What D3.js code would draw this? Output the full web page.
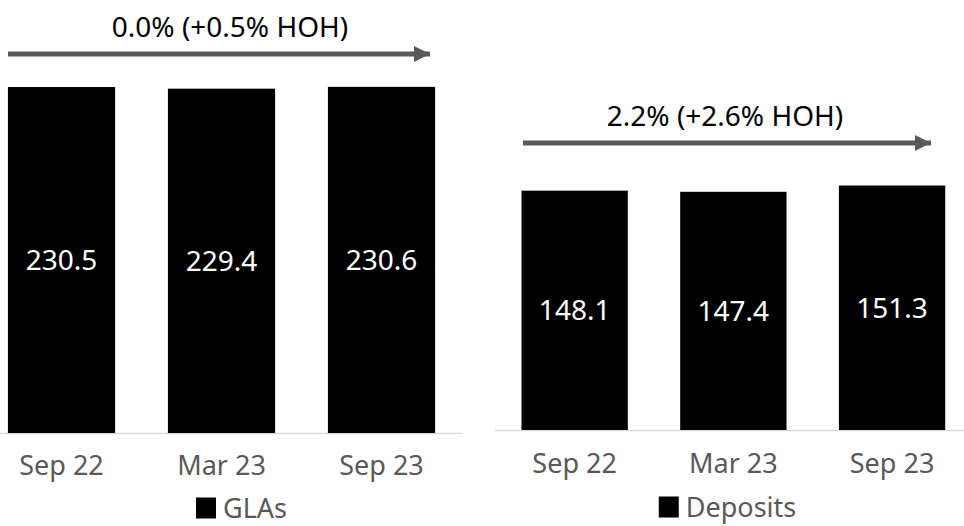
<!DOCTYPE html>
<html>
<head>
<meta charset="utf-8">
<script src="https://cdn.jsdelivr.net/npm/d3@7"></script>
<style>
  html, body { margin: 0; padding: 0; background: #fff; }
  svg { display: block; font-family: "Noto Sans", "Open Sans", sans-serif; }
</style>
</head>
<body>
<svg id="chart" width="964" height="526"></svg>
<script>
// ---- data ----
const categories = ["Sep 22", "Mar 23", "Sep 23"];
const glasValues = [230.5, 229.4, 230.6];
const depositValues = [148.1, 147.4, 151.3];
const seriesNames = ["GLAs", "Deposits"];
const growthLabels = ["0.0% (+0.5% HOH)", "2.2% (+2.6% HOH)"];

const svg = d3.select("#chart");
const textGray = "#595959";

const panels = [
  { values: glasValues, name: seriesNames[0], growth: growthLabels[0],
    xRange: [-18.5, 461.5], base: 433, pxPerUnit: 1.501,
    axisLine: [0, 462], arrowY: 54, arrowX: [8, 432], titleX: 230, titleY: 37,
    tickY: 475, legendY: 518, legendX: 255 },
  { values: depositValues, name: seriesNames[1], growth: growthLabels[1],
    xRange: [495.3, 971.4], base: 430, pxPerUnit: 1.616,
    axisLine: [495, 964], arrowY: 143, arrowX: [523, 933], titleX: 725, titleY: 126,
    tickY: 473, legendY: 517, legendX: 741 }
];

svg.append("defs").append("marker")
  .attr("id", "arrowhead")
  .attr("viewBox", "0 0 10 10")
  .attr("refX", 10).attr("refY", 5)
  .attr("markerUnits", "userSpaceOnUse")
  .attr("markerWidth", 17).attr("markerHeight", 16)
  .attr("orient", "auto")
  .append("path").attr("d", "M0,0 L10,5 L0,10 Z").attr("fill", textGray);

panels.forEach(p => {
  const g = svg.append("g");
  const x = d3.scaleBand().domain(categories).range(p.xRange)
    .paddingInner(0.33).paddingOuter(0.165);
  const maxV = d3.max(p.values);
  const y = d3.scaleLinear().domain([0, maxV]).range([p.base, p.base - maxV * p.pxPerUnit]);

  // axis baseline
  g.append("line")
    .attr("x1", p.axisLine[0]).attr("x2", p.axisLine[1])
    .attr("y1", p.base + 0.5).attr("y2", p.base + 0.5)
    .attr("stroke", "#d9d9d9").attr("stroke-width", 1.5);

  // bars
  g.selectAll("rect.bar").data(p.values).join("rect")
    .attr("class", "bar")
    .attr("x", (d, i) => x(categories[i]))
    .attr("width", x.bandwidth())
    .attr("y", d => y(d))
    .attr("height", d => y(0) - y(d))
    .attr("fill", "#000");

  // value labels
  g.selectAll("text.val").data(p.values).join("text")
    .attr("class", "val")
    .attr("x", (d, i) => x(categories[i]) + x.bandwidth() / 2)
    .attr("y", d => (y(d) + y(0)) / 2)
    .attr("dy", "0.36em")
    .attr("text-anchor", "middle")
    .attr("fill", "#fff")
    .attr("font-size", 28)
    .text(d => d.toFixed(1));

  // category labels
  const axis = d3.axisBottom(x).tickSize(0).tickPadding(0);
  const ag = g.append("g").attr("transform", `translate(0,${p.tickY})`).call(axis);
  ag.select(".domain").remove();
  ag.selectAll("text")
    .attr("y", 0).attr("dy", 0)
    .attr("font-size", 27)
    .attr("font-family", "Noto Sans")
    .attr("fill", textGray);

  // arrow
  g.append("line")
    .attr("x1", p.arrowX[0]).attr("x2", p.arrowX[1] - 2)
    .attr("y1", p.arrowY).attr("y2", p.arrowY)
    .attr("stroke", textGray).attr("stroke-width", 5)
    .attr("marker-end", "url(#arrowhead)");

  // growth title
  g.append("text")
    .attr("x", p.titleX).attr("y", p.titleY)
    .attr("text-anchor", "middle")
    .attr("font-size", 28)
    .attr("fill", "#000")
    .text(p.growth);

  // legend
  const lg = g.append("g").attr("transform", `translate(${p.legendX},${p.legendY})`);
  const lt = lg.append("text")
    .attr("x", 0).attr("y", 0)
    .attr("text-anchor", "middle")
    .attr("font-size", 27)
    .attr("fill", textGray)
    .text(p.name);
  const bb = lt.node().getBBox();
  lg.append("rect")
    .attr("x", bb.x - 27).attr("y", -20.5)
    .attr("width", 20).attr("height", 21)
    .attr("fill", "#000");
});
</script>
</body>
</html>
